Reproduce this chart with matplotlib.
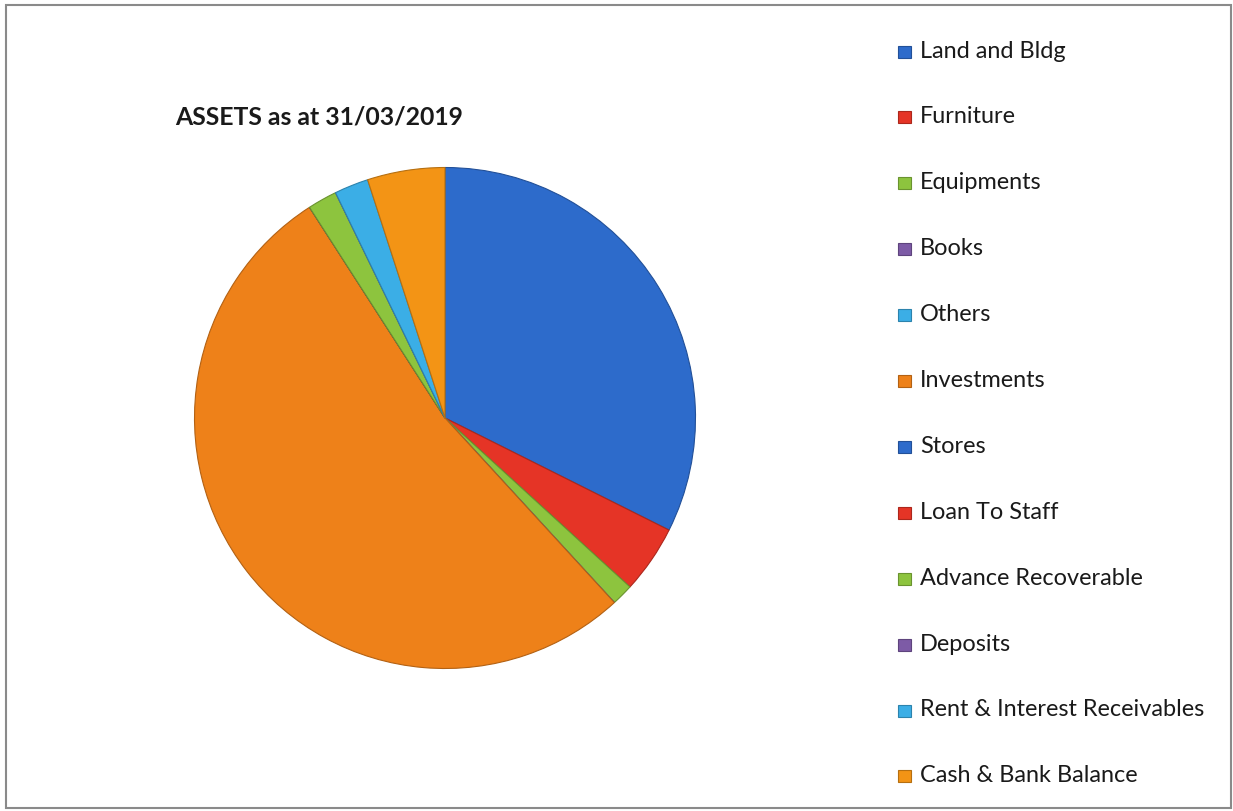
import matplotlib
matplotlib.use("Agg")
import matplotlib.pyplot as plt
from matplotlib.patches import Rectangle
from matplotlib.colors import to_rgb

categories = ["Land and Bldg", "Furniture", "Equipments", "Books", "Others",
              "Investments", "Stores", "Loan To Staff", "Advance Recoverable",
              "Deposits", "Rent & Interest Receivables", "Cash & Bank Balance"]
values = [32.4, 4.4, 1.4, 0.0, 0.0, 52.75, 0.0, 0.0, 1.9, 0.0, 2.2, 5.0]
colors = ["#2D6BCB", "#E53426", "#8DC43E", "#7D5BA6", "#3BAEE6", "#EE8119",
          "#2D6BCB", "#E53426", "#8DC43E", "#7D5BA6", "#3BAEE6", "#F39415"]
title = "ASSETS as at 31/03/2019"

plt.rcParams['font.family'] = ['Lato', 'DejaVu Sans']

W, H = 1233, 811
fig = plt.figure(figsize=(W / 100, H / 100), dpi=100)
fig.patch.set_facecolor("white")

# frame around chart
fig.patches.append(Rectangle((6 / W, (H - 808) / H), (1231 - 6) / W, (808 - 5) / H,
                             transform=fig.transFigure, fill=False,
                             edgecolor="#8a8a8a", linewidth=1.5))

cx, cy, r = 445, 418, 253
ax = fig.add_axes([(cx - r) / W, (H - cy - r) / H, 2 * r / W, 2 * r / H])
edges = [tuple(c * 0.75 for c in to_rgb(col)) for col in colors]
wedges, _ = ax.pie(values, colors=colors, startangle=90, counterclock=False,
                   radius=1.0, wedgeprops=dict(linewidth=0.8))
for w, e in zip(wedges, edges):
    w.set_edgecolor(e)
ax.set_xlim(-1.01, 1.01)
ax.set_ylim(-1.01, 1.01)
ax.set_aspect("equal")
ax.axis("off")

fig.text(175 / W, 1 - 117 / H, title, fontsize=17.8, fontweight="bold",
         ha="left", va="center", color="#1a1a1a")

# legend
y0, dy = 51, 65.9
for i, (lab, col, e) in enumerate(zip(categories, colors, edges)):
    y = y0 + i * dy
    fig.patches.append(Rectangle((898 / W, 1 - (y + 6.5) / H), 13 / W, 12 / H,
                                 transform=fig.transFigure, facecolor=col,
                                 edgecolor=e, linewidth=0.8))
    fig.text(920 / W, 1 - y / H, lab, fontsize=16.9, ha="left", va="center",
             color="#1a1a1a")

fig.savefig("out.png", dpi=100)
